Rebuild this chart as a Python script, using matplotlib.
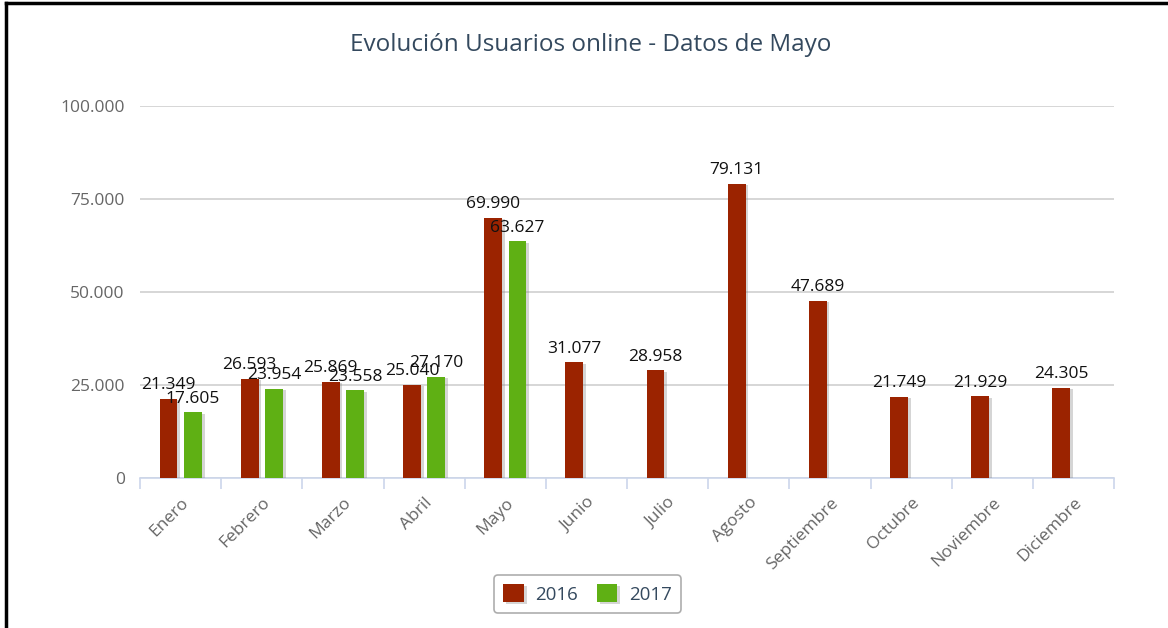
import numpy as np
import matplotlib
matplotlib.use('Agg')
import matplotlib.pyplot as plt
import matplotlib.patheffects as pe
from matplotlib.lines import Line2D
from matplotlib.ticker import FuncFormatter

months = ['Enero', 'Febrero', 'Marzo', 'Abril', 'Mayo', 'Junio', 'Julio',
          'Agosto', 'Septiembre', 'Octubre', 'Noviembre', 'Diciembre']
users_2016 = [21349, 26593, 25869, 25040, 69990, 31077, 28958, 79131, 47689, 21749, 21929, 24305]
users_2017 = [17605, 23954, 23558, 27170, 63627]
yticks = [0, 25000, 50000, 75000, 100000]

RED = '#9b2300'
GREEN = '#5fb014'

plt.rcParams['font.family'] = ['Open Sans', 'DejaVu Sans']


def fmt(v):
    return f'{int(v):,}'.replace(',', '.')


def main():
    fig = plt.figure(figsize=(11.68, 6.28), dpi=100)
    ax = fig.add_axes([0.1199, 0.2389, 0.8339, 0.5923])

    x = np.arange(len(months))
    w = 0.22
    shadow = [pe.SimplePatchShadow(offset=(2, -1), shadow_rgbFace='#888888', alpha=0.35), pe.Normal()]
    b1 = ax.bar(x - 0.15, users_2016, w, color=RED, label='2016', zorder=3)
    x17 = x[:len(users_2017)]
    b2 = ax.bar(x17 + 0.15, users_2017, w, color=GREEN, label='2017', zorder=3)
    for b in list(b1) + list(b2):
        b.set_path_effects(shadow)

    # labels overlap in the original too
    for xi, v in zip(x, users_2016):
        ax.text(xi - 0.15, v + 1500, fmt(v), ha='center', va='bottom', fontsize=12.5, color='#111111', zorder=5)
    for xi, v in zip(x17, users_2017):
        ax.text(xi + 0.15, v + 1500, fmt(v), ha='center', va='bottom', fontsize=12.5, color='#111111', zorder=5)

    ax.set_xlim(-0.5, len(months) - 0.5)
    ax.set_ylim(0, 100000)
    ax.set_yticks(yticks)
    ax.yaxis.set_major_formatter(FuncFormatter(lambda v, p: fmt(v)))
    ax.tick_params(axis='y', length=0, pad=11, labelsize=12.5, labelcolor='#666666')
    ax.grid(axis='y', color='#d0d0d0', linewidth=1.2, zorder=0)

    ax.set_xticks(x)
    ax.set_xticklabels(months, rotation=45, ha='right', va='top', rotation_mode='anchor')
    ax.tick_params(axis='x', which='major', length=0, pad=12, labelsize=12.5, labelcolor='#666666')
    ax.set_xticks(np.arange(len(months) + 1) - 0.5, minor=True)
    ax.tick_params(axis='x', which='minor', length=8, color='#ccd6eb', width=1.2)

    for s in ['left', 'right', 'top']:
        ax.spines[s].set_visible(False)
    ax.spines['bottom'].set_color('#ccd6eb')
    ax.spines['bottom'].set_linewidth(1.2)

    fig.text(0.506, 0.928, 'Evolución Usuarios online - Datos de Mayo', ha='center', va='center',
             fontsize=17.5, color='#34495e')

    leg = fig.legend(handles=[b1, b2], labels=['2016', '2017'], loc='center', bbox_to_anchor=(0.503, 0.054),
                     ncol=2, fontsize=13.5, frameon=True, handlelength=1.1, handleheight=1.1,
                     columnspacing=1.0, handletextpad=0.6, borderpad=0.5)
    leg.get_frame().set_edgecolor('#999999')
    leg.get_frame().set_linewidth(1.2)
    for t in leg.get_texts():
        t.set_color('#34495e')

    # screenshot frame
    fig.add_artist(Line2D([6 / 1168, 1], [1 - 3 / 628, 1 - 3 / 628], color='black', lw=2.5, transform=fig.transFigure))
    fig.add_artist(Line2D([6 / 1168, 6 / 1168], [0, 1 - 3 / 628], color='black', lw=2.5, transform=fig.transFigure))

    fig.savefig('out.png', dpi=100)


if __name__ == "__main__":
    main()
